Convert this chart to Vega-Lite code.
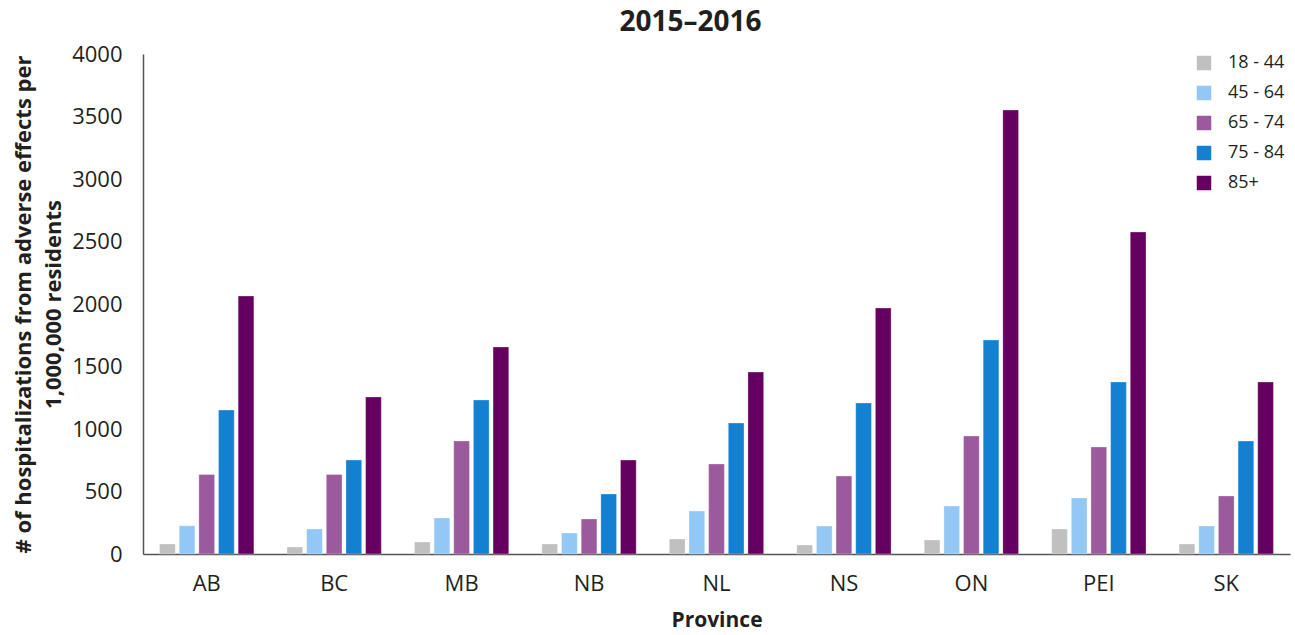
{
  "$schema": "https://vega.github.io/schema/vega-lite/v6.json",
  "width": 1147,
  "height": 500,
  "autosize": {"type": "none"},
  "padding": {"left": 143, "top": 54, "right": 5, "bottom": 81},
  "background": "white",
  "config": {"view": {"stroke": null}, "font": "Open Sans"},
  "title": {"text": "2015–2016", "font": "Open Sans", "fontSize": 28, "fontWeight": "bold", "color": "#231f20", "anchor": "middle", "dx": -26, "offset": 6},
  "data": {"values": [
    {"province": "AB", "age": "18 - 44", "value": 80},
    {"province": "AB", "age": "45 - 64", "value": 226},
    {"province": "AB", "age": "65 - 74", "value": 636},
    {"province": "AB", "age": "75 - 84", "value": 1152},
    {"province": "AB", "age": "85+", "value": 2064},
    {"province": "BC", "age": "18 - 44", "value": 56},
    {"province": "BC", "age": "45 - 64", "value": 200},
    {"province": "BC", "age": "65 - 74", "value": 636},
    {"province": "BC", "age": "75 - 84", "value": 752},
    {"province": "BC", "age": "85+", "value": 1256},
    {"province": "MB", "age": "18 - 44", "value": 96},
    {"province": "MB", "age": "45 - 64", "value": 288},
    {"province": "MB", "age": "65 - 74", "value": 904},
    {"province": "MB", "age": "75 - 84", "value": 1232},
    {"province": "MB", "age": "85+", "value": 1656},
    {"province": "NB", "age": "18 - 44", "value": 80},
    {"province": "NB", "age": "45 - 64", "value": 168},
    {"province": "NB", "age": "65 - 74", "value": 280},
    {"province": "NB", "age": "75 - 84", "value": 480},
    {"province": "NB", "age": "85+", "value": 752},
    {"province": "NL", "age": "18 - 44", "value": 120},
    {"province": "NL", "age": "45 - 64", "value": 344},
    {"province": "NL", "age": "65 - 74", "value": 720},
    {"province": "NL", "age": "75 - 84", "value": 1048},
    {"province": "NL", "age": "85+", "value": 1456},
    {"province": "NS", "age": "18 - 44", "value": 72},
    {"province": "NS", "age": "45 - 64", "value": 224},
    {"province": "NS", "age": "65 - 74", "value": 624},
    {"province": "NS", "age": "75 - 84", "value": 1208},
    {"province": "NS", "age": "85+", "value": 1968},
    {"province": "ON", "age": "18 - 44", "value": 112},
    {"province": "ON", "age": "45 - 64", "value": 384},
    {"province": "ON", "age": "65 - 74", "value": 944},
    {"province": "ON", "age": "75 - 84", "value": 1712},
    {"province": "ON", "age": "85+", "value": 3552},
    {"province": "PEI", "age": "18 - 44", "value": 200},
    {"province": "PEI", "age": "45 - 64", "value": 448},
    {"province": "PEI", "age": "65 - 74", "value": 856},
    {"province": "PEI", "age": "75 - 84", "value": 1376},
    {"province": "PEI", "age": "85+", "value": 2576},
    {"province": "SK", "age": "18 - 44", "value": 80},
    {"province": "SK", "age": "45 - 64", "value": 224},
    {"province": "SK", "age": "65 - 74", "value": 464},
    {"province": "SK", "age": "75 - 84", "value": 904},
    {"province": "SK", "age": "85+", "value": 1376}
  ]},
  "mark": {"type": "bar", "stroke": "white", "strokeOpacity": 0.5, "strokeWidth": 0.6},
  "encoding": {
    "x": {
      "field": "province", "type": "nominal",
      "scale": {"paddingInner": 0.26, "paddingOuter": 0.13},
      "axis": {
        "title": "Province", "titleFont": "Open Sans", "titleFontSize": 21, "titleFontWeight": "bold", "titleColor": "#231f20", "titlePadding": 15,
        "labelAngle": 0, "labelFont": "Open Sans", "labelFontSize": 22, "labelColor": "#231f20", "labelPadding": 19,
        "ticks": false, "domainColor": "#555555", "domainWidth": 1.5, "grid": false
      }
    },
    "xOffset": {"field": "age", "type": "nominal", "scale": {"paddingInner": 0.2, "paddingOuter": 0}},
    "y": {
      "field": "value", "type": "quantitative",
      "scale": {"domain": [0, 4000], "nice": false},
      "axis": {
        "title": ["# of hospitalizations from adverse effects per", "1,000,000 residents"],
        "titleFont": "Open Sans", "titleFontSize": 22, "titleFontWeight": "bold", "titleColor": "#231f20", "titleLineHeight": 30, "titlePadding": 6,
        "values": [0, 500, 1000, 1500, 2000, 2500, 3000, 3500, 4000], "format": "d",
        "labelFont": "Open Sans", "labelFontSize": 22, "labelColor": "#231f20", "labelPadding": 21,
        "ticks": false, "domainColor": "#555555", "domainWidth": 1.5, "grid": false
      }
    },
    "color": {
      "field": "age", "type": "nominal",
      "scale": {"domain": ["18 - 44", "45 - 64", "65 - 74", "75 - 84", "85+"], "range": ["#C0C0C0", "#93C8F4", "#9B5A9B", "#1380D2", "#660060"]},
      "legend": {
        "title": null, "orient": "none", "legendX": 1052, "legendY": 0,
        "symbolType": "square", "symbolSize": 210, "symbolStrokeWidth": 0,
        "labelFont": "Open Sans", "labelFontSize": 18, "labelColor": "#231f20", "labelOffset": 15,
        "rowPadding": 12
      }
    }
  }
}
